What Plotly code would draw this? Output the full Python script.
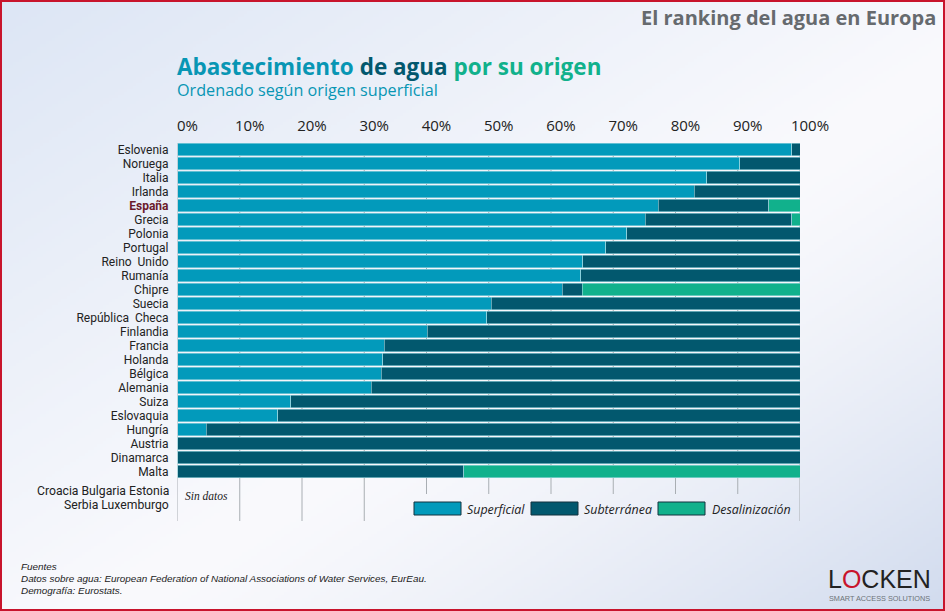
import base64, struct, zlib
import numpy as np
import plotly.graph_objects as go

countries = ["Eslovenia", "Noruega", "Italia", "Irlanda", "España", "Grecia", "Polonia", "Portugal",
             "Reino  Unido", "Rumanía", "Chipre", "Suecia", "República  Checa", "Finlandia", "Francia",
             "Holanda", "Bélgica", "Alemania", "Suiza", "Eslovaquia", "Hungría", "Austria", "Dinamarca", "Malta"]
superficial = [98.7, 90.3, 85.0, 83.0, 77.2, 75.1, 72.2, 68.8, 65.1, 64.8, 61.8, 50.4, 49.7, 40.1,
               33.2, 33.0, 32.7, 31.1, 18.2, 16.1, 4.6, 0.0, 0.0, 0.0]
subterranea = [1.3, 9.7, 15.0, 17.0, 17.8, 23.6, 27.8, 31.2, 34.9, 35.2, 3.2, 49.6, 50.3, 59.9,
               66.8, 67.0, 67.3, 68.9, 81.8, 83.9, 95.4, 100.0, 100.0, 46.0]
desalinizacion = [0.0, 0.0, 0.0, 0.0, 5.0, 1.3, 0.0, 0.0, 0.0, 0.0, 35.0, 0.0, 0.0, 0.0,
                  0.0, 0.0, 0.0, 0.0, 0.0, 0.0, 0.0, 0.0, 0.0, 54.0]
series_names = ["Superficial", "Subterránea", "Desalinización"]
colors = ["#029abb", "#02586e", "#11b18c"]
x_ticks = [0, 10, 20, 30, 40, 50, 60, 70, 80, 90, 100]
no_data_lines = ["Croacia Bulgaria Estonia", "Serbia Luxemburgo"]

W, H = 945, 611
FONT = "Open Sans"
LABEL_FONT = "Roboto"
TIGHT_FONT = "Liberation Sans"
px = lambda v: v / W
py = lambda v: 1 - v / H


def gradient_png(w, h):
    # diagonal page background: bluish corners fading to near-white in the middle
    yy, xx = np.mgrid[0:h, 0:w]
    t = (xx / w + yy / h) / 2
    c0 = np.array([221, 230, 245.0])
    c1 = np.array([250, 250, 253.0])
    c2 = np.array([209, 219, 238.0])
    a = np.clip(t / 0.55, 0, 1)[..., None]
    b = np.clip((t - 0.55) / 0.45, 0, 1)[..., None]
    img = (c0 + (c1 - c0) * a + (c2 - c1) * b ** 1.4).astype(np.uint8)
    raw = b"".join(b"\x00" + img[i].tobytes() for i in range(h))

    def chunk(tag, data):
        return struct.pack(">I", len(data)) + tag + data + struct.pack(">I", zlib.crc32(tag + data))

    png = b"\x89PNG\r\n\x1a\n" + chunk(b"IHDR", struct.pack(">IIBBBBB", w, h, 8, 2, 0, 0, 0)) \
        + chunk(b"IDAT", zlib.compress(raw, 9)) + chunk(b"IEND", b"")
    return "data:image/png;base64," + base64.b64encode(png).decode()


fig = go.Figure()
for name, vals, col in zip(series_names, [superficial, subterranea, desalinizacion], colors):
    fig.add_trace(go.Bar(y=countries, x=vals, name=name, orientation="h",
                         marker=dict(color=col, line=dict(color="#a5dbe3", width=0.6)),
                         showlegend=False))

ticktext = ['<b><span style="color:#6b1a2b">España</span></b>' if c == "España" else c for c in countries]

shapes = []
# gridlines, below the bars
for t in x_ticks:
    short = 40 <= t <= 90
    shapes.append(dict(type="line", xref="x", yref="paper", x0=t, x1=t, y0=py(494 if short else 521), y1=py(143),
                       line=dict(color="#a9aeb3", width=1), layer="below"))
# page frame
shapes.append(dict(type="rect", xref="paper", yref="paper", x0=px(1), x1=px(W - 1), y0=py(H - 1), y1=py(1),
                   line=dict(color="#c8142c", width=2), fillcolor="rgba(0,0,0,0)", layer="above"))

annotations = []


def note(x, y, text, size, color="#222222", anchor="left", family=FONT, italic=False):
    annotations.append(dict(xref="paper", yref="paper", x=px(x), y=py(y), text=f"<i>{text}</i>" if italic else text,
                            showarrow=False, xanchor=anchor, yanchor="middle", align=anchor,
                            font=dict(size=size, color=color, family=family)))


note(938, 17, "<b>El ranking del agua en Europa</b>", 20, "#666a6e", "right")
note(175, 66, '<b><span style="color:#0896b4">Abastecimiento</span> <span style="color:#02586e">de agua</span> '
              '<span style="color:#11b18c">por su origen</span></b>', 22.5)
note(175, 90, "Ordenado según origen superficial", 16.2, "#0896b4")
note(171, 491, no_data_lines[0], 12.2, "#222222", "right", LABEL_FONT)
note(171, 505, no_data_lines[1], 12.2, "#222222", "right", LABEL_FONT)
note(183, 496, "Sin datos", 11.5, "#222222", family="Liberation Serif", italic=True)
note(19, 566, "Fuentes", 9.9, "#222222", family=TIGHT_FONT, italic=True)
note(19, 578, "Datos sobre agua: European Federation of National Associations of Water Services, EurEau.", 9.9,
     "#222222", family=TIGHT_FONT, italic=True)
note(19, 590, "Demografía: Eurostats.", 9.9, "#222222", family=TIGHT_FONT, italic=True)

# legend keys and labels
legend_x = [(414, 461, 465), (531, 578, 582), (658, 705, 710)]
for (x0, x1, tx), name, col in zip(legend_x, series_names, colors):
    shapes.append(dict(type="rect", xref="paper", yref="paper", x0=px(x0), x1=px(x1), y0=py(515), y1=py(502),
                       fillcolor=col, line=dict(color="#12323f", width=1)))
    note(tx, 509, name, 12.4, "#222222", italic=True)

# logo
note(933, 579, '<span style="color:#222222">L</span><span style="color:#c8142c">O</span>'
               '<span style="color:#222222">CKEN</span>', 25, "#222222", "right", TIGHT_FONT)
note(932, 598.5, "SMART ACCESS SOLUTIONS", 7.3, "#6d7378", "right", TIGHT_FONT)

fig.update_layout(
    width=W, height=H, autosize=False, margin=dict(l=0, r=0, t=0, b=0, pad=0),
    paper_bgcolor="#f5f7fb", plot_bgcolor="rgba(0,0,0,0)",
    barmode="stack", bargap=0.08, font=dict(family=FONT, color="#222222"),
    shapes=shapes, annotations=annotations,
    images=[dict(source=gradient_png(W // 3, H // 3), xref="paper", yref="paper", x=0, y=1, sizex=1, sizey=1,
                 sizing="stretch", xanchor="left", yanchor="top", layer="below")],
    xaxis=dict(domain=[px(177.5), px(800)], range=[0, 100], side="top", anchor="y", tickvals=x_ticks,
               ticktext=[f"{t}%" for t in x_ticks], showgrid=False, zeroline=False, showline=False,
               ticks="", tickfont=dict(size=15, color="#222222"), ticklabelshift=10, ticklabelstandoff=8,
               automargin=False),
    yaxis=dict(domain=[py(520.5), py(142.5)], type="category", categoryorder="array", categoryarray=countries,
               range=[26.5, -0.5], tickmode="array", tickvals=countries, ticktext=ticktext, showgrid=False,
               zeroline=False, showline=False, ticks="", tickfont=dict(size=12, color="#222222", family=LABEL_FONT),
               ticklabelstandoff=8, automargin=False),
)

fig.write_html("out.html", config={"displayModeBar": False},
               post_script="document.body.style.margin='0';")
